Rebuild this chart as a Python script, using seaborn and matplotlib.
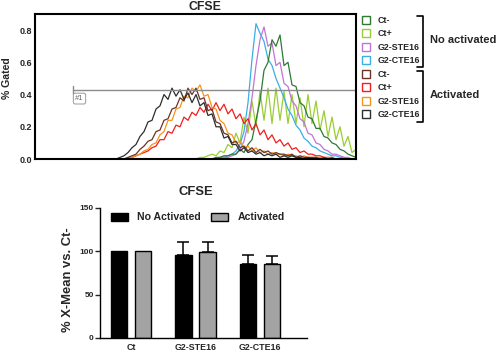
import matplotlib
matplotlib.use("Agg")
import matplotlib.pyplot as plt
from matplotlib.patches import Patch
from matplotlib.lines import Line2D
import seaborn as sns
import pandas as pd

sns.set_theme(style="white")
plt.rcParams['font.family'] = ['Liberation Sans', 'DejaVu Sans']
plt.rcParams['font.weight'] = 'bold'

# ---------------- data: CFSE histograms (channel vs % gated) ----------------
channel = list(range(81, 322, 4))

ct_neg_na = [0.00] * 20 + [
    0.00, 0.00, 0.00, 0.00, 0.00, 0.01, 0.01, 0.02, 0.02, 0.03,
    0.03, 0.06, 0.04, 0.09, 0.12, 0.24, 0.36, 0.55, 0.60, 0.74,
    0.70, 0.77, 0.58, 0.60, 0.46, 0.45, 0.35, 0.33, 0.26, 0.25,
    0.19, 0.19, 0.14, 0.13, 0.10, 0.09, 0.06, 0.05, 0.03, 0.02,
    0.01]
ct_pos_na = [0.00] * 20 + [
    0.00, 0.01, 0.01, 0.02, 0.03, 0.02, 0.05, 0.04, 0.09, 0.07,
    0.16, 0.10, 0.26, 0.16, 0.36, 0.20, 0.42, 0.24, 0.44, 0.22,
    0.44, 0.24, 0.42, 0.22, 0.40, 0.22, 0.38, 0.20, 0.40, 0.22,
    0.36, 0.18, 0.30, 0.14, 0.26, 0.12, 0.20, 0.08, 0.14, 0.04,
    0.06]
ste_na = [0.00] * 20 + [
    0.00, 0.00, 0.00, 0.00, 0.00, 0.00, 0.01, 0.01, 0.01, 0.02,
    0.03, 0.06, 0.11, 0.22, 0.38, 0.58, 0.74, 0.82, 0.70, 0.72,
    0.58, 0.60, 0.47, 0.45, 0.36, 0.33, 0.25, 0.23, 0.16, 0.15,
    0.10, 0.09, 0.06, 0.05, 0.03, 0.03, 0.02, 0.01, 0.01, 0.00,
    0.00]
cte_na = [0.00] * 20 + [
    0.00, 0.00, 0.00, 0.00, 0.00, 0.00, 0.01, 0.01, 0.02, 0.03,
    0.05, 0.09, 0.17, 0.35, 0.62, 0.84, 0.78, 0.73, 0.62, 0.58,
    0.50, 0.44, 0.38, 0.31, 0.27, 0.21, 0.18, 0.13, 0.11, 0.08,
    0.07, 0.05, 0.04, 0.03, 0.02, 0.02, 0.01, 0.01, 0.00, 0.00,
    0.00]
ct_neg_act = [
    0.00, 0.00, 0.00, 0.01, 0.02, 0.03, 0.06, 0.08, 0.11, 0.12,
    0.17, 0.18, 0.24, 0.25, 0.31, 0.32, 0.38, 0.36, 0.44, 0.40,
    0.44, 0.37, 0.38, 0.30, 0.31, 0.23, 0.22, 0.16, 0.15, 0.10,
    0.11, 0.07, 0.08, 0.05, 0.07, 0.04, 0.06, 0.04, 0.05, 0.03,
    0.04, 0.03, 0.03, 0.02, 0.03, 0.01, 0.02, 0.01, 0.01, 0.01,
    0.01, 0.00, 0.01, 0.00, 0.00, 0.00, 0.00, 0.00, 0.00, 0.00,
    0.00]
ct_pos_act = [
    0.00, 0.00, 0.00, 0.00, 0.01, 0.02, 0.03, 0.04, 0.05, 0.07,
    0.08, 0.12, 0.12, 0.17, 0.16, 0.21, 0.20, 0.26, 0.24, 0.29,
    0.27, 0.32, 0.29, 0.34, 0.30, 0.35, 0.30, 0.34, 0.28, 0.31,
    0.25, 0.28, 0.22, 0.25, 0.18, 0.22, 0.15, 0.18, 0.12, 0.15,
    0.10, 0.12, 0.08, 0.10, 0.06, 0.07, 0.04, 0.05, 0.03, 0.03,
    0.02, 0.02, 0.01, 0.01, 0.01, 0.00, 0.00, 0.00, 0.00, 0.00,
    0.00]
ste_act = [
    0.00, 0.00, 0.00, 0.01, 0.01, 0.02, 0.03, 0.05, 0.06, 0.09,
    0.10, 0.15, 0.17, 0.24, 0.24, 0.31, 0.32, 0.39, 0.38, 0.44,
    0.42, 0.46, 0.39, 0.40, 0.32, 0.31, 0.24, 0.22, 0.16, 0.15,
    0.10, 0.11, 0.07, 0.08, 0.05, 0.07, 0.04, 0.05, 0.03, 0.04,
    0.03, 0.03, 0.02, 0.03, 0.02, 0.02, 0.01, 0.02, 0.01, 0.01,
    0.01, 0.01, 0.00, 0.01, 0.00, 0.00, 0.00, 0.00, 0.00, 0.00,
    0.00]
cte_act = [
    0.00, 0.01, 0.02, 0.04, 0.07, 0.09, 0.14, 0.17, 0.23, 0.24,
    0.31, 0.33, 0.40, 0.37, 0.44, 0.39, 0.43, 0.37, 0.41, 0.35,
    0.40, 0.33, 0.35, 0.27, 0.28, 0.20, 0.20, 0.13, 0.14, 0.09,
    0.09, 0.05, 0.07, 0.04, 0.05, 0.03, 0.04, 0.02, 0.03, 0.02,
    0.03, 0.01, 0.02, 0.01, 0.02, 0.01, 0.01, 0.00, 0.01, 0.00,
    0.00, 0.00, 0.00, 0.00, 0.00, 0.00, 0.00, 0.00, 0.00, 0.00,
    0.00]

legend_labels = ["Ct-", "Ct+", "G2-STE16", "G2-CTE16"]
group_labels = ["No activated", "Activated"]
gate_level = 0.43
gate_start = 38
gate_name = "#1"

# ---------------- data: bar chart ----------------
groups = ["Ct", "G2-STE16", "G2-CTE16"]
conditions = ["No Activated", "Activated"]
mean_no_act = [100, 95.5, 85]
mean_act = [100, 99.5, 85]
err_no_act = [0, 15.5, 10.5]
err_act = [0, 11.5, 9.5]

W, H = 500, 353
fig = plt.figure(figsize=(W / 100, H / 100), dpi=100)

def fx(px):
    return px / W

def fy(py):
    return 1 - py / H

# ================= top: histogram overlay =================
ax1 = fig.add_axes([fx(35), fy(159), (356 - 35) / W, (159 - 14) / H])
series = [
    ("na_ctpos", ct_pos_na, "#9acd32"),
    ("na_cte", cte_na, "#3aaee8"),
    ("na_ste", ste_na, "#c274d6"),
    ("na_ctneg", ct_neg_na, "#2e7a35"),
    ("act_ctpos", ct_pos_act, "#f01e1e"),
    ("act_ste", ste_act, "#f7941d"),
    ("act_ctneg", ct_neg_act, "#6a3328"),
    ("act_cte", cte_act, "#2e2e2e"),
]
for name, vals, col in series:
    d = pd.DataFrame({"channel": channel, "gated": vals})
    sns.lineplot(data=d, x="channel", y="gated", color=col, lw=0.9,
                 estimator=None, ax=ax1)

ax1.set_xlim(0, 321)
ax1.set_ylim(0, 0.9)
ax1.set_xticks([])
ax1.set_yticks([0.0, 0.2, 0.4, 0.6, 0.8])
ax1.set_yticklabels(["0.0", "0.2", "0.4", "0.6", "0.8"])
ax1.tick_params(axis="y", labelsize=6.5, pad=2, length=0)
ax1.set_xlabel("")
ax1.set_ylabel("% Gated", fontsize=7.6, fontweight="bold")
ax1.yaxis.set_label_coords(-0.072, 0.56)
for s in ax1.spines.values():
    s.set_linewidth(1.5)
    s.set_color("black")

# gate
ax1.plot([gate_start, 321], [gate_level, gate_level], color="#8a8a8a", lw=1)
ax1.plot([gate_start, gate_start], [gate_level - 0.025, gate_level + 0.025],
         color="#8a8a8a", lw=1)
ax1.text(gate_start + 6.5, gate_level - 0.055, gate_name, fontsize=5.5,
         color="#666666", ha="center", va="center", fontweight="normal",
         bbox=dict(boxstyle="round,pad=0.25", fc="white", ec="#999999", lw=0.7))

fig.text(fx(205), fy(7), "CFSE", ha="center", va="center",
         fontsize=8.8, fontweight="bold")

# legend for histograms
cols_leg = ["#2e7a35", "#9acd32", "#c274d6", "#3aaee8",
            "#6a3328", "#f01e1e", "#f7941d", "#2e2e2e"]
handles = [Patch(facecolor="white", edgecolor=c, lw=1) for c in cols_leg]
fig.legend(handles, legend_labels + legend_labels, loc="upper left",
           bbox_to_anchor=(fx(362), fy(16)), bbox_transform=fig.transFigure,
           frameon=False, borderpad=0, borderaxespad=0,
           handlelength=0.95, handleheight=1.0,
           handletextpad=0.8, labelspacing=0.5,
           prop={"weight": "bold", "size": 6.4})

# brackets
for (y0, y1) in [(16, 67), (71, 122)]:
    fig.add_artist(Line2D([fx(417), fx(423), fx(423), fx(417)],
                          [fy(y0), fy(y0), fy(y1), fy(y1)],
                          color="black", lw=1.2))
fig.text(fx(430), fy(40), group_labels[0], ha="left", va="center",
         fontsize=8, fontweight="bold")
fig.text(fx(430), fy(95), group_labels[1], ha="left", va="center",
         fontsize=8, fontweight="bold")

# ================= bottom: bar chart =================
ax2 = fig.add_axes([fx(100), fy(338), (307 - 100) / W, (338 - 208) / H])
df = pd.DataFrame({
    "group": groups * 2,
    "condition": [conditions[0]] * 3 + [conditions[1]] * 3,
    "value": mean_no_act + mean_act,
})
sns.barplot(data=df, x="group", y="value", hue="condition", order=groups,
            hue_order=conditions, palette=["black", "#a3a3a3"],
            width=0.75, gap=0.32, edgecolor="black", linewidth=1,
            errorbar=None, ax=ax2)

for cont, errs in zip(ax2.containers, [err_no_act, err_act]):
    for bar, e in zip(cont, errs):
        if e <= 0:
            continue
        xc = bar.get_x() + bar.get_width() / 2
        ax2.errorbar([xc], [bar.get_height()], yerr=[[0], [e]], fmt="none",
                     ecolor="black", elinewidth=1.1, capsize=4.3,
                     capthick=1.1, zorder=1)

ax2.set_xlim(-0.48, 2.73)
ax2.set_ylim(0, 150)
ax2.set_yticks([0, 50, 100, 150])
ax2.set_xlabel("")
ax2.set_ylabel("% X-Mean vs. Ct-", fontsize=9.4, fontweight="bold")
ax2.yaxis.set_label_coords(-0.125, 0.45)
ax2.tick_params(axis="y", labelsize=6.0, length=3.5, width=1, pad=1,
                direction="out", left=True)
ax2.tick_params(axis="x", labelsize=6.4, length=0, pad=3.5)
for lab in ax2.get_xticklabels() + ax2.get_yticklabels():
    lab.set_fontweight("bold")
sns.despine(ax=ax2)
for s in ["left", "bottom"]:
    ax2.spines[s].set_linewidth(1)
    ax2.spines[s].set_color("black")

ax2.legend(loc="center", bbox_to_anchor=(0.473, 0.927), ncol=2, frameon=False,
           handlelength=1.6, handleheight=0.85, handletextpad=0.85,
           columnspacing=1.0, borderpad=0, prop={"weight": "bold", "size": 7.6})

fig.text(fx(196), fy(192), "CFSE", ha="center", va="center",
         fontsize=9.4, fontweight="bold")

fig.savefig("out.png", dpi=100)
